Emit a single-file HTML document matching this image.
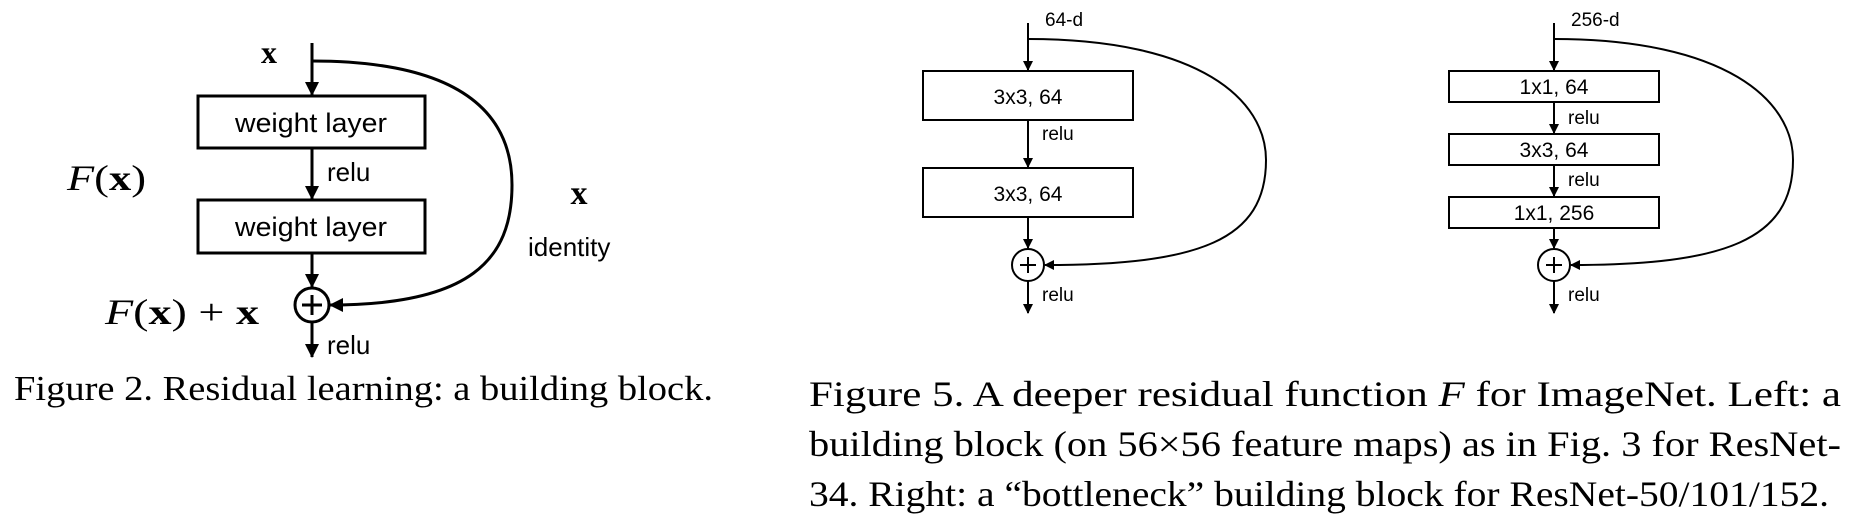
<!DOCTYPE html>
<html><head><meta charset="utf-8"><style>
html,body{margin:0;padding:0;background:#fff;}
svg{display:block;}
.c{font-family:"Liberation Sans",sans-serif;fill:#000;}
.m{font-family:"Liberation Serif",serif;fill:#000;}
</style></head><body>
<svg width="1865" height="524" viewBox="0 0 1865 524" xmlns="http://www.w3.org/2000/svg">
<defs>
<marker id="a" markerWidth="10" markerHeight="10" refX="9" refY="5" orient="auto" markerUnits="userSpaceOnUse"><path d="M0,0 L10,5 L0,10 z" fill="#000"/></marker>
<marker id="b" markerWidth="14" markerHeight="14" refX="13" refY="7" orient="auto" markerUnits="userSpaceOnUse"><path d="M0,0 L14,7 L0,14 z" fill="#000"/></marker>
</defs>
<g stroke="#000" fill="none">
<g stroke-width="3">
<line x1="312" y1="43" x2="312" y2="95" marker-end="url(#b)"/>
<rect x="198" y="96" width="227" height="52" fill="#fff"/>
<line x1="312" y1="148" x2="312" y2="199" marker-end="url(#b)"/>
<rect x="198" y="200" width="227" height="53" fill="#fff"/>
<line x1="312" y1="253" x2="312" y2="287" marker-end="url(#b)"/>
<circle cx="312" cy="305" r="17"/>
<line x1="312" y1="322" x2="312" y2="357" marker-end="url(#b)"/>
<path d="M312,61 C470,61 512,120 512,185 C512,260 470,305 330,305" marker-end="url(#b)"/>
<line x1="302" y1="305" x2="322" y2="305"/><line x1="312" y1="295" x2="312" y2="315"/>
</g>
<g stroke-width="2">
<line x1="1028" y1="23" x2="1028" y2="70" marker-end="url(#a)"/>
<rect x="923" y="71" width="210" height="49" fill="#fff"/>
<line x1="1028" y1="120" x2="1028" y2="167" marker-end="url(#a)"/>
<rect x="923" y="168" width="210" height="49" fill="#fff"/>
<line x1="1028" y1="217" x2="1028" y2="248" marker-end="url(#a)"/>
<circle cx="1028" cy="265" r="16"/>
<line x1="1020" y1="265" x2="1036" y2="265"/><line x1="1028" y1="257" x2="1028" y2="273"/>
<line x1="1028" y1="281" x2="1028" y2="313" marker-end="url(#a)"/>
<path d="M1028,39 C1200,39 1266,100 1266,160 C1266,240 1200,265 1045,265" marker-end="url(#a)"/>
</g>
<g stroke-width="2">
<line x1="1554" y1="23" x2="1554" y2="70" marker-end="url(#a)"/>
<rect x="1449" y="71" width="210" height="31" fill="#fff"/>
<line x1="1554" y1="102" x2="1554" y2="133" marker-end="url(#a)"/>
<rect x="1449" y="134" width="210" height="31" fill="#fff"/>
<line x1="1554" y1="165" x2="1554" y2="196" marker-end="url(#a)"/>
<rect x="1449" y="197" width="210" height="31" fill="#fff"/>
<line x1="1554" y1="228" x2="1554" y2="248" marker-end="url(#a)"/>
<circle cx="1554" cy="265" r="16"/>
<line x1="1546" y1="265" x2="1562" y2="265"/><line x1="1554" y1="257" x2="1554" y2="273"/>
<line x1="1554" y1="281" x2="1554" y2="313" marker-end="url(#a)"/>
<path d="M1554,39 C1725,39 1793,100 1793,160 C1793,240 1725,265 1571,265" marker-end="url(#a)"/>
</g>
</g>
<text class="m" x="269" y="63" font-size="32" font-weight="bold" text-anchor="middle">x</text>
<text class="c" x="235" y="132" font-size="27" textLength="152" lengthAdjust="spacingAndGlyphs">weight layer</text>
<text class="c" x="235" y="236" font-size="27" textLength="152" lengthAdjust="spacingAndGlyphs">weight layer</text>
<text class="c" x="327" y="181" font-size="26">relu</text>
<text class="c" x="327" y="354" font-size="26">relu</text>
<text class="m" x="67" y="190" font-size="36" textLength="79" lengthAdjust="spacingAndGlyphs"><tspan font-style="italic">F</tspan>(<tspan font-weight="bold">x</tspan>)</text>
<text class="m" x="105" y="324" font-size="36" textLength="154" lengthAdjust="spacingAndGlyphs"><tspan font-style="italic">F</tspan>(<tspan font-weight="bold">x</tspan>) + <tspan font-weight="bold">x</tspan></text>
<text class="m" x="579" y="204" font-size="34" font-weight="bold" text-anchor="middle">x</text>
<text class="c" x="528" y="256" font-size="26">identity</text>
<text class="c" x="1045" y="26" font-size="19">64-d</text>
<text class="c" x="1028" y="104" font-size="21" text-anchor="middle">3x3, 64</text>
<text class="c" x="1028" y="201" font-size="21" text-anchor="middle">3x3, 64</text>
<text class="c" x="1042" y="140" font-size="19">relu</text>
<text class="c" x="1042" y="301" font-size="19">relu</text>
<text class="c" x="1571" y="26" font-size="19">256-d</text>
<text class="c" x="1554" y="94" font-size="21" text-anchor="middle">1x1, 64</text>
<text class="c" x="1554" y="157" font-size="21" text-anchor="middle">3x3, 64</text>
<text class="c" x="1554" y="220" font-size="21" text-anchor="middle">1x1, 256</text>
<text class="c" x="1568" y="124" font-size="19">relu</text>
<text class="c" x="1568" y="186" font-size="19">relu</text>
<text class="c" x="1568" y="301" font-size="19">relu</text>
<text class="m" x="14" y="400" font-size="35" textLength="699" lengthAdjust="spacingAndGlyphs">Figure 2. Residual learning: a building block.</text>
<text class="m" x="809" y="406" font-size="36" textLength="1032" lengthAdjust="spacingAndGlyphs">Figure 5. A deeper residual function <tspan font-style="italic">F</tspan> for ImageNet.  Left: a</text>
<text class="m" x="809" y="456" font-size="36" textLength="1032" lengthAdjust="spacingAndGlyphs">building block (on 56×56 feature maps) as in Fig. 3 for ResNet-</text>
<text class="m" x="809" y="506" font-size="36" textLength="1020" lengthAdjust="spacingAndGlyphs">34. Right: a “bottleneck” building block for ResNet-50/101/152.</text>
</svg>
</body></html>
